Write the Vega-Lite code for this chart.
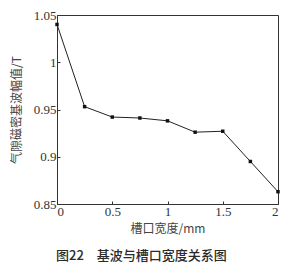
{
  "$schema": "https://vega.github.io/schema/vega-lite/v6.json",
  "autosize": {"type": "none"},
  "width": 221,
  "height": 189,
  "padding": {"left": 57, "top": 15, "right": 12, "bottom": 59},
  "background": "white",
  "data": {"values": [
    {"w": 0, "b": 1.040},
    {"w": 0.25, "b": 0.953},
    {"w": 0.5, "b": 0.942},
    {"w": 0.75, "b": 0.941},
    {"w": 1.0, "b": 0.938},
    {"w": 1.25, "b": 0.926},
    {"w": 1.5, "b": 0.927},
    {"w": 1.75, "b": 0.895},
    {"w": 2.0, "b": 0.863}
  ]},
  "title": {
    "text": "图22　基波与槽口宽度关系图",
    "orient": "bottom",
    "anchor": "start",
    "frame": "group",
    "offset": 16,
    "dx": -1,
    "font": "Noto Sans CJK SC",
    "fontSize": 13,
    "fontWeight": 500,
    "color": "#2a2a2a"
  },
  "config": {
    "view": {"stroke": "#333", "strokeWidth": 1},
    "axis": {
      "labelFont": "Times New Roman",
      "labelFontSize": 13,
      "labelColor": "#333",
      "titleFont": "Noto Sans CJK SC",
      "titleFontSize": 12,
      "titleFontWeight": "normal",
      "titleColor": "#444",
      "domainColor": "#333",
      "tickColor": "#333",
      "tickSize": -3,
      "grid": false
    }
  },
  "encoding": {
    "x": {
      "field": "w", "type": "quantitative",
      "scale": {"domain": [0, 2], "nice": false},
      "axis": {"values": [0, 0.5, 1, 1.5, 2], "title": "槽口宽度/mm", "labelPadding": 4, "titlePadding": 5, "format": "~g"}
    },
    "y": {
      "field": "b", "type": "quantitative",
      "scale": {"domain": [0.85, 1.05], "nice": false, "zero": false},
      "axis": {"values": [0.85, 0.9, 0.95, 1, 1.05], "title": "气隙磁密基波幅值/T", "labelPadding": 4, "titlePadding": 10, "format": "~g"}
    }
  },
  "layer": [
    {
      "mark": {"type": "line", "color": "#222", "strokeWidth": 1}
    },
    {
      "mark": {"type": "point", "filled": true, "color": "#111", "size": 12, "shape": "square", "opacity": 1}
    },
    {
      "data": {"values": [{"t": 0.5}, {"t": 1}, {"t": 1.5}]},
      "mark": {"type": "rule", "color": "#333"},
      "encoding": {"x": {"field": "t", "type": "quantitative"}, "y": {"datum": 1.05}, "y2": {"datum": 1.0465}}
    },
    {
      "data": {"values": [{"t": 0.9}, {"t": 0.95}, {"t": 1}]},
      "mark": {"type": "rule", "color": "#333"},
      "encoding": {"y": {"field": "t", "type": "quantitative"}, "x": {"datum": 2}, "x2": {"datum": 1.973}}
    }
  ]
}
